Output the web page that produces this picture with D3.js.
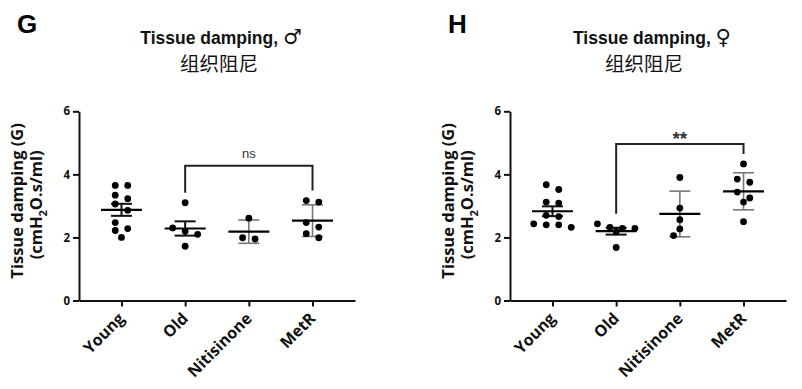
<!DOCTYPE html>
<html>
<head>
<meta charset="utf-8">
<script src="https://cdn.jsdelivr.net/npm/d3@7"></script>
<style>
body { margin: 0; background: #fff; }
</style>
</head>
<body>
<div id="chart"></div>
<script>
var categories = ["Young", "Old", "Nitisinone", "MetR"];
var errorType = ["sem", "sem", "sd", "sd"];   // Young/Old mean±SEM, others mean±SD
var yTicks = [0, 2, 4, 6];

// G: males
var maleYoung = [3.65, 3.65, 3.34, 3.23, 3.06, 2.86, 2.47, 2.28, 2.22, 2.00];
var maleOld = [3.10, 2.30, 2.20, 2.10, 1.72];
var maleNitisinone = [2.61, 1.99, 1.95];
var maleMetR = [3.17, 3.12, 2.47, 2.33, 2.12, 1.99];

// H: females
var femaleYoung = [3.67, 3.52, 3.12, 3.09, 2.70, 2.66, 2.43, 2.40, 2.40, 2.32];
var femaleOld = [2.43, 2.32, 2.29, 2.29, 2.18, 1.68];
var femaleNitisinone = [3.90, 2.93, 2.56, 2.27, 2.06];
var femaleMetR = [4.33, 3.85, 3.75, 3.44, 3.25, 3.12, 2.50];

// comparison brackets: groups, bracket level (data units), label
var maleCompare = ["Old", "MetR"];
var maleCompareLevel = 4.27;
var maleCompareLabel = "ns";
var femaleCompare = ["Old", "MetR"];
var femaleCompareLevel = 4.96;
var femaleCompareLabel = "**";

var width = 802, height = 389;

var svg = d3.select("#chart").append("svg")
    .attr("width", width)
    .attr("height", height);

var panels = [
  { x0: 79, letter: "G", symbol: "\u2642", titleX: 221, cnX: 219,
    groups: [maleYoung, maleOld, maleNitisinone, maleMetR],
    compare: maleCompare, level: maleCompareLevel, label: maleCompareLabel },
  { x0: 510, letter: "H", symbol: "\u2640", titleX: 652, cnX: 644,
    groups: [femaleYoung, femaleOld, femaleNitisinone, femaleMetR],
    compare: femaleCompare, level: femaleCompareLevel, label: femaleCompareLabel }
];

var axisFont = "'Open Sans', 'DejaVu Sans', sans-serif";
var titleFont = "'Liberation Sans', Arial, 'DejaVu Sans', sans-serif";
var r = 3.4, step = 12.5;

// simple beeswarm: near-equal values share a row, lone points dodge collisions
function swarm(values, cx, y) {
  var pts = values.slice().sort(d3.descending).map(function(v) { return { v: v, py: y(v) }; });
  var rows = [], cur = null;
  pts.forEach(function(p) {
    if (cur && p.py - cur[0].py < 6.5) cur.push(p);
    else { cur = [p]; rows.push(cur); }
  });
  var placed = [];
  function hits(px, py) {
    return placed.some(function(q) { return Math.hypot(q.px - px, q.py - py) < 2 * r + 0.2; });
  }
  rows.forEach(function(row) {
    var n = row.length;
    if (n === 1) {
      var p = row[0], cands = [0, -step / 2, step / 2, -step, step];
      for (var k = 0; k < cands.length; k++) {
        if (!hits(cx + cands[k], p.py)) { p.px = cx + cands[k]; break; }
      }
      if (p.px === undefined) p.px = cx;
      placed.push(p);
    } else {
      row.forEach(function(p, i) {
        p.px = cx + (i - (n - 1) / 2) * step;
        placed.push(p);
      });
    }
  });
  return placed;
}

panels.forEach(function(cfg) {
  var g = svg.append("g");

  var x = d3.scalePoint().domain(categories)
      .range([cfg.x0, cfg.x0 + 276]).padding(0.667);
  var y = d3.scaleLinear().domain([0, 6]).range([300.5, 111.3]);

  // panel letter + titles
  g.append("text")
      .attr("x", cfg.x0 - 62).attr("y", 32.5)
      .style("font-family", titleFont).style("font-weight", "bold")
      .style("font-size", "26px")
      .text(cfg.letter);

  var tt = g.append("text")
      .attr("x", cfg.titleX).attr("y", 43.5)
      .attr("text-anchor", "middle")
      .style("font-family", titleFont).style("font-weight", "bold")
      .style("font-size", "17.5px").style("fill", "#111");
  tt.append("tspan").text("Tissue damping, ");
  tt.append("tspan")
      .style("font-family", "'DejaVu Sans', sans-serif")
      .style("font-size", "21px")
      .text(cfg.symbol);

  g.append("text")
      .attr("x", cfg.cnX).attr("y", 70.5)
      .attr("text-anchor", "middle")
      .style("font-family", "'Noto Sans CJK SC', sans-serif")
      .style("font-size", "19.5px").style("fill", "#111")
      .text("组织阻尼");

  // axes
  var yAxis = d3.axisLeft(y).tickValues(yTicks).tickFormat(d3.format("d"))
      .tickSize(6).tickSizeOuter(0).tickPadding(3);
  var xAxis = d3.axisBottom(x).tickSize(6).tickSizeOuter(0).tickFormat("");

  var ya = g.append("g")
      .attr("transform", "translate(" + cfg.x0 + ",0)")
      .call(yAxis);
  ya.selectAll("text")
      .style("font-family", axisFont).style("font-weight", "bold")
      .style("font-size", "11.5px").style("fill", "#111");

  var xa = g.append("g")
      .attr("transform", "translate(0," + y(0) + ")")
      .call(xAxis);

  [ya, xa].forEach(function(a) {
    a.select(".domain").attr("stroke", "#111").attr("stroke-width", 2);
    a.selectAll(".tick line").attr("stroke", "#111").attr("stroke-width", 2);
  });

  // rotated category labels
  g.selectAll(".xlab")
      .data(categories)
      .enter().append("text")
      .attr("class", "xlab")
      .attr("transform", function(d) {
        return "translate(" + (x(d) + 4) + "," + (y(0) + 19) + ") rotate(-45)";
      })
      .attr("text-anchor", "end")
      .style("font-family", axisFont).style("font-weight", "bold")
      .style("font-size", "16px").style("fill", "#111")
      .text(function(d) { return d; });

  // y axis title (two lines)
  var cy = (y(0) + y(6)) / 2;
  g.append("text")
      .attr("transform", "translate(" + (cfg.x0 - 56) + "," + (cy - 5) + ") rotate(-90)")
      .attr("text-anchor", "middle")
      .style("font-family", axisFont).style("font-weight", "bold")
      .style("font-size", "16.5px").style("fill", "#111")
      .text("Tissue damping (G)");

  var t2 = g.append("text")
      .attr("transform", "translate(" + (cfg.x0 - 37) + "," + (cy - 1) + ") rotate(-90)")
      .attr("text-anchor", "middle")
      .style("font-family", axisFont).style("font-weight", "bold")
      .style("font-size", "16.5px").style("fill", "#111");
  t2.append("tspan").text("(cmH");
  t2.append("tspan").attr("dy", 5).style("font-size", "11px").text("2");
  t2.append("tspan").attr("dy", -5).text("O.s/ml)");

  // groups
  cfg.groups.forEach(function(vals, i) {
    var cat = categories[i], cx = x(cat);
    var m = d3.mean(vals), sd = d3.deviation(vals);
    var err = errorType[i] === "sem" ? sd / Math.sqrt(vals.length) : sd;
    var ec = errorType[i] === "sem" ? "#111" : "#777";
    var ew = errorType[i] === "sem" ? 2 : 1.6;

    var eg = g.append("g");
    eg.append("line")
        .attr("x1", cx).attr("x2", cx).attr("y1", y(m + err)).attr("y2", y(m - err))
        .attr("stroke", ec).attr("stroke-width", ew);
    [m + err, m - err].forEach(function(v) {
      eg.append("line")
          .attr("x1", cx - 10.5).attr("x2", cx + 10.5).attr("y1", y(v)).attr("y2", y(v))
          .attr("stroke", ec).attr("stroke-width", ew);
    });

    g.selectAll(".dot" + i)
        .data(swarm(vals, cx, y))
        .enter().append("circle")
        .attr("cx", function(d) { return d.px; })
        .attr("cy", function(d) { return d.py; })
        .attr("r", r)
        .attr("fill", "#000");

    g.append("line")
        .attr("x1", cx - 20.5).attr("x2", cx + 20.5).attr("y1", y(m)).attr("y2", y(m))
        .attr("stroke", "#000").attr("stroke-width", 2.2);
  });

  // comparison bracket
  var a = categories.indexOf(cfg.compare[0]), b = categories.indexOf(cfg.compare[1]);
  var xa1 = x(cfg.compare[0]), xb1 = x(cfg.compare[1]), yl = y(cfg.level);
  var ya1 = y(d3.max(cfg.groups[a])) - 10, yb1 = y(d3.max(cfg.groups[b])) - 10;
  g.append("path")
      .attr("d", "M" + xa1 + "," + ya1 + "V" + yl + "H" + xb1 + "V" + yb1)
      .attr("fill", "none").attr("stroke", "#222").attr("stroke-width", 2);

  var isStars = cfg.label.indexOf("*") >= 0;
  g.append("text")
      .attr("x", (xa1 + xb1) / 2)
      .attr("y", isStars ? yl + 1 : yl - 8)
      .attr("text-anchor", "middle")
      .style("font-family", titleFont)
      .style("font-weight", isStars ? "bold" : "normal")
      .style("font-size", isStars ? "19px" : "13px")
      .style("fill", "#333")
      .text(cfg.label);
});
</script>
</body>
</html>
